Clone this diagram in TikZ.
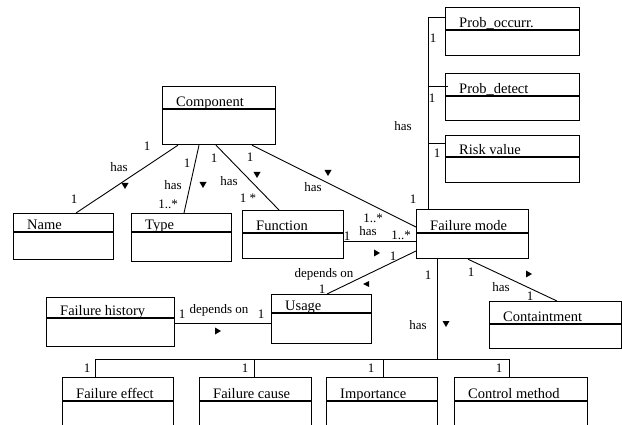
\documentclass[tikz,border=0pt]{standalone}
\usepackage{fontspec}
\setmainfont{Liberation Serif}
\usetikzlibrary{calc}
\tikzset{
  cls/.style={draw, line width=1.2pt, fill=white, inner sep=0pt, anchor=north west},
  cname/.style={font=\fontsize{14.5}{15}\selectfont, anchor=base west, inner sep=0pt},
  lbl/.style={font=\fontsize{13}{14}\selectfont, inner sep=0pt},
  conn/.style={line width=0.9pt},
}
% \umlcls{name}{x1}{y1}{x2}{y2}{ydiv}{text}
\newcommand\umlcls[7]{%
  \node[cls, minimum width=#4pt-#2pt, minimum height=#5pt-#3pt] (#1) at (#2,#3) {};
  \draw[line width=1.2pt] (#2,#6) -- (#4,#6);
  \node[cname] (#1-t) at (#2+14,#6-2.5) {#7};
}
\newcommand\tdown[1]{\fill (#1) ++(-3.5,-3) -- ++(7,0) -- ++(-3.5,6) -- cycle;}
\newcommand\tright[1]{\fill (#1) ++(-3,-3.5) -- ++(0,7) -- ++(6,-3.5) -- cycle;}
\newcommand\tleft[1]{\fill (#1) ++(3,-3) -- ++(0,6) -- ++(-6,-3) -- cycle;}
\begin{document}
\begin{tikzpicture}[x=1pt,y=-1pt]
\useasboundingbox (0,0) rectangle (622,425);
\coordinate (busL) at (95,359);
\coordinate (busR) at (509,359);
\coordinate (rtop) at (428,17);

\umlcls{comp}{162}{86}{275}{144}{109}{Component}
\umlcls{name}{13}{213}{113}{259}{232}{Name}
\umlcls{type}{131}{213}{231}{261}{232}{Type}
\umlcls{func}{242}{210}{343}{258}{233}{Function}
\umlcls{fm}{416}{209}{528}{258}{233}{Failure mode}
\umlcls{po}{445}{7}{579}{55}{30}{Prob\_occurr.}
\umlcls{pd}{445}{73}{579}{120}{96}{Prob\_detect}
\umlcls{rv}{445}{135}{579}{182}{157}{Risk value}
\umlcls{cont}{489}{301}{621}{348}{324}{Containtment}
\umlcls{usage}{271}{294}{371}{343}{313}{Usage}
\umlcls{fh}{46}{297}{174}{346}{318}{Failure history}
\umlcls{fe}{62}{377}{173}{432}{401}{Failure effect}
\umlcls{fc}{199}{377}{311}{432}{401}{Failure cause}
\umlcls{imp}{326}{377}{437}{432}{401}{Importance}
\umlcls{cm}{454}{377}{587}{432}{401}{Control method}

% Component associations
\draw[conn] ([xshift=16pt]comp.south west) -- ([xshift=63pt]name.north west);
\draw[conn] ([xshift=37pt]comp.south west) -- ([xshift=53pt]type.north west);
\draw[conn] ([xshift=54pt]comp.south west) -- ([xshift=37pt]func.north west);
\draw[conn] ([xshift=90pt]comp.south west) -- ([yshift=-18pt]fm.north west);
% Function - Failure mode
\draw[conn] ([yshift=-31pt]func.north east) -- ([yshift=-32pt]fm.north west);
% Failure mode - Usage
\draw[conn] ([yshift=-42pt]fm.north west) -- ([xshift=56pt]usage.north west);
% Failure mode - Containtment
\draw[conn] ([xshift=52pt]fm.south west) -- ([xshift=68pt]cont.north west);
% Failure history - Usage
\draw[conn] ([yshift=-26pt]fh.north east) -- ([yshift=-29pt]usage.north west);
% right column
\draw[conn] ([xshift=12pt]fm.north west) -- (rtop);
\draw[conn] (rtop) -- (rtop -| po.west);
\draw[conn] ($(rtop)+(0,69)$) -- ($(pd.west |- rtop)+(3,69)$);
\draw[conn] ($(rtop)+(0,126)$) -- ($(rv.west |- rtop)+(0,126)$);
% bottom tree
\draw[conn] ([xshift=21pt]fm.south west) -- ([xshift=21pt]fm.south west |- busL);
\draw[conn] (busL) -- (busR);
\draw[conn] (busL) -- (busL |- fe.north);
\draw[conn] ([xshift=55pt]fc.north west) -- ([xshift=55pt]fc.north west |- busL);
\draw[conn] ([xshift=57pt]imp.north west) -- ([xshift=57pt]imp.north west |- busL);
\draw[conn] (busR) -- (busR |- cm.north);

% labels: Component - Name
\node[lbl] at (147,146) {1};
\node[lbl] at (119,167) {has};
\tdown{125,186}
\node[lbl] at (74,199) {1};
% Component - Type
\node[lbl] at (187,163) {1};
\node[lbl] at (173,185) {has};
\tdown{203,185}
\node[lbl] at (168,204) {1..*};
% Component - Function
\node[lbl] at (214,158) {1};
\node[lbl] at (229,181) {has};
\tdown{257,175}
\node[lbl] at (248,198) {1 *};
% Component - Failure mode
\node[lbl] at (250,157) {1};
\node[lbl] at (313,187) {has};
\tdown{328,173}
\node[lbl] at (373,218) {1..*};
% Function - Failure mode
\node[lbl] at (347,236) {1};
\node[lbl] at (368,231) {has};
\node[lbl] at (401,235) {1..*};
\tright{377,253}
% Failure mode top
\node[lbl] at (413,199) {1};
% right column
\node[lbl] at (433,38) {1};
\node[lbl] at (432,98) {1};
\node[lbl] at (403,126) {has};
\node[lbl] at (437,153) {1};
% Failure mode - Usage
\node[lbl] at (324,274) {depends on};
\node[lbl] at (393,256) {1};
\node[lbl] at (322,289) {1};
\tleft{366,284}
% Failure history - Usage
\node[lbl] at (182,314) {1};
\node[lbl] at (219,310) {depends on};
\node[lbl] at (261,314) {1};
\tright{218,331}
% Failure mode - bottom tree
\node[lbl] at (428,275) {1};
\node[lbl] at (418,325) {has};
\tdown{446,324}
% Failure mode - Containtment
\node[lbl] at (471,272) {1};
\tright{529,274}
\node[lbl] at (501,287) {has};
\node[lbl] at (530,296) {1};
% bottom
\node[lbl] at (87,368) {1};
\node[lbl] at (245,368) {1};
\node[lbl] at (371,368) {1};
\node[lbl] at (499,368) {1};
\end{tikzpicture}
\end{document}
